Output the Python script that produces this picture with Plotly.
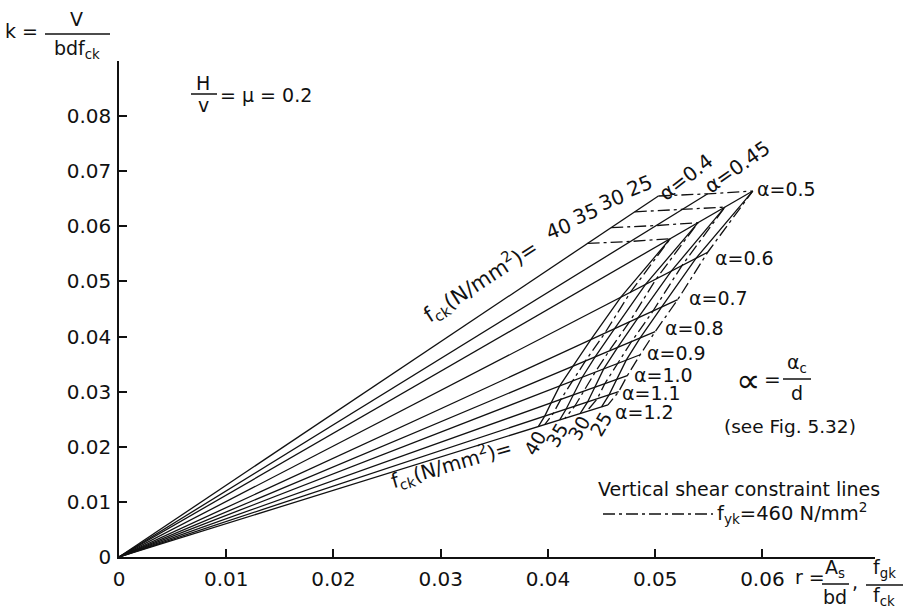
import plotly.graph_objects as go

# Shear-span ratios alpha = a_c/d, one ray from the origin for each
alphas = [0.4, 0.45, 0.5, 0.6, 0.7, 0.8, 0.9, 1.0, 1.1, 1.2]
# End of each ray (fck = 25 limit): r and k values
ray_r_end = [0.0503, 0.0549, 0.0591, 0.0549, 0.0521, 0.0500, 0.0486, 0.0474, 0.0466, 0.0456]
ray_k_end = [0.0655, 0.0659, 0.0664, 0.0553, 0.0467, 0.0409, 0.0367, 0.0329, 0.0300, 0.0276]

# Concrete grades and the r value where each grade's shear limit crosses each ray
fck_grades = [40, 35, 30, 25]
limit_r = {
    25: [0.0503, 0.0549, 0.0591, 0.0549, 0.0521, 0.0500, 0.0486, 0.0474, 0.0466, 0.0456],
    30: [0.0481, 0.0525, 0.0565, 0.0525, 0.0498, 0.0478, 0.0465, 0.0453, 0.0446, 0.0436],
    35: [0.0459, 0.0501, 0.0540, 0.0501, 0.0476, 0.0457, 0.0444, 0.0433, 0.0425, 0.0416],
    40: [0.0437, 0.0477, 0.0514, 0.0477, 0.0453, 0.0435, 0.0423, 0.0412, 0.0405, 0.0397],
}
# Strength lines (solid) between alpha = 0.5 and 1.2
strength_r = {
    25: [0.0591, 0.0538, 0.0506, 0.0486, 0.0473, 0.0464, 0.0457, 0.0450],
    30: [0.0565, 0.0515, 0.0484, 0.0465, 0.0452, 0.0444, 0.0437, 0.0430],
    35: [0.0540, 0.0491, 0.0462, 0.0444, 0.0432, 0.0424, 0.0417, 0.0411],
    40: [0.0514, 0.0468, 0.0440, 0.0423, 0.0411, 0.0403, 0.0397, 0.0391],
}

x_ticks = [0, 0.01, 0.02, 0.03, 0.04, 0.05, 0.06, 0.0705]
x_tick_text = ["0", "0.01", "0.02", "0.03", "0.04", "0.05", "0.06", ""]
y_ticks = [0, 0.01, 0.02, 0.03, 0.04, 0.05, 0.06, 0.07, 0.08, 0.09]
y_tick_text = ["0", "0.01", "0.02", "0.03", "0.04", "0.05", "0.06", "0.07", "0.08", ""]

W, H = 913, 609
L, R, T, B = 119, 38, 61, 52
FONT = "DejaVu Sans, Arial, sans-serif"
INK = "#111111"
LW = 1.3
DASHDOT = "12px,4px,3px,4px"
FS = 19

fig = go.Figure()

def slope(i):
    return ray_k_end[i] / ray_r_end[i]

# rays from the origin
for i, a in enumerate(alphas):
    fig.add_trace(go.Scatter(x=[0, ray_r_end[i]], y=[0, ray_k_end[i]], mode="lines",
                             line=dict(color=INK, width=LW), hoverinfo="skip", showlegend=False))

# vertical shear constraint lines (dash-dot), one per grade
for f in fck_grades:
    xs = limit_r[f]
    ys = [slope(i) * xs[i] for i in range(len(alphas))]
    fig.add_trace(go.Scatter(x=xs, y=ys, mode="lines",
                             line=dict(color=INK, width=LW, dash=DASHDOT),
                             hoverinfo="skip", showlegend=False))

# strength lines (solid), alpha 0.5 .. 1.2
for f in fck_grades:
    xs = strength_r[f]
    ys = [slope(i + 2) * xs[i] for i in range(len(xs))]
    fig.add_trace(go.Scatter(x=xs, y=ys, mode="lines",
                             line=dict(color=INK, width=LW),
                             hoverinfo="skip", showlegend=False))

# ---- text placed in page pixels ----
def px(x):
    return (x - L) / (W - L - R)

def py(y):
    return (H - B - y) / (H - B - T)

def label(text, x, y, size=FS, angle=0, xanchor="center", yanchor="middle"):
    fig.add_annotation(text=text, x=px(x), y=py(y), xref="paper", yref="paper",
                       showarrow=False, textangle=angle, xanchor=xanchor, yanchor=yanchor,
                       font=dict(family=FONT, size=size, color=INK))

def bar(x0, x1, y):
    fig.add_shape(type="line", x0=px(x0), x1=px(x1), y0=py(y), y1=py(y),
                  xref="paper", yref="paper", line=dict(color=INK, width=1.5))

# k = V / (b d fck)
label("k =", 3, 31, xanchor="left")
label("V", 76, 19)
bar(45, 110, 34)
label("bdf<sub>ck</sub>", 77, 49)

# H / v = mu = 0.2
label("H", 203, 83)
bar(191, 217, 94)
label("v", 203, 105)
label("= μ = 0.2", 218, 95, xanchor="left")

# grade labels along the top ray
label("f<sub>ck</sub>(N/mm<sup>2</sup>)=", 480, 281, size=21, angle=-33)
label("40", 558, 229, size=20, angle=-22)
label("35", 585, 214, size=20, angle=-22)
label("30", 611, 200, size=20, angle=-22)
label("25", 639, 186, size=20, angle=-22)

# rotated alpha labels
label("α=0.4", 686, 177, size=20, angle=-38)
label("α=0.45", 737, 167, size=20, angle=-35)

# alpha labels at the ray ends
for txt, x, y in [("α=0.5", 755, 189), ("α=0.6", 713, 258), ("α=0.7", 687, 298),
                  ("α=0.8", 663, 328), ("α=0.9", 645, 353), ("α=1.0", 632, 375),
                  ("α=1.1", 620, 393), ("α=1.2", 613, 412)]:
    label(txt, x, y, size=19, xanchor="left")

# grade labels near the bottom
label("f<sub>ck</sub>(N/mm<sup>2</sup>)=", 451, 464, size=20, angle=-16)
label("40", 535, 443, size=19, angle=-60)
label("35", 557, 435, size=19, angle=-60)
label("30", 579, 428, size=19, angle=-60)
label("25", 601, 424, size=19, angle=-60)

# alpha definition
label("∝", 748, 380, size=34)
label("=", 772, 379, size=20)
label("α<sub>c</sub>", 797, 363)
bar(783, 811, 379)
label("d", 797, 393)
label("(see Fig. 5.32)", 790, 426, size=18.5)

# key for the dash-dot lines
label("Vertical shear constraint lines", 739, 489, size=19)
fig.add_shape(type="line", x0=px(603), x1=px(713), y0=py(514), y1=py(514),
              xref="paper", yref="paper", line=dict(color=INK, width=LW, dash=DASHDOT))
label("f<sub>yk</sub>=460 N/mm<sup>2</sup>", 715, 513, size=19.5, xanchor="left")

# x-axis title: r = As/bd , fgk/fck
label("r =", 793, 577, xanchor="left")
label("A<sub>s</sub>", 835, 568)
bar(822, 849, 584)
label("bd", 835, 597)
label(",", 855, 582)
label("f<sub>gk</sub>", 884, 568)
bar(866, 903, 585)
label("f<sub>ck</sub>", 884, 596)

axis_common = dict(showgrid=False, zeroline=False, showline=True, linecolor=INK, linewidth=1.6,
                   ticks="inside", ticklen=8, tickwidth=1.6, tickcolor=INK,
                   tickfont=dict(family=FONT, size=20, color=INK))

fig.update_layout(
    width=W, height=H,
    margin=dict(l=L, r=R, t=T, b=B),
    paper_bgcolor="white", plot_bgcolor="white",
    xaxis=dict(range=[0, 0.0705], tickvals=x_ticks, ticktext=x_tick_text,
               ticklabelstandoff=3, **axis_common),
    yaxis=dict(range=[0, 0.09], tickvals=y_ticks, ticktext=y_tick_text,
               ticklabelstandoff=2, **axis_common),
)

fig.write_html("out.html")
